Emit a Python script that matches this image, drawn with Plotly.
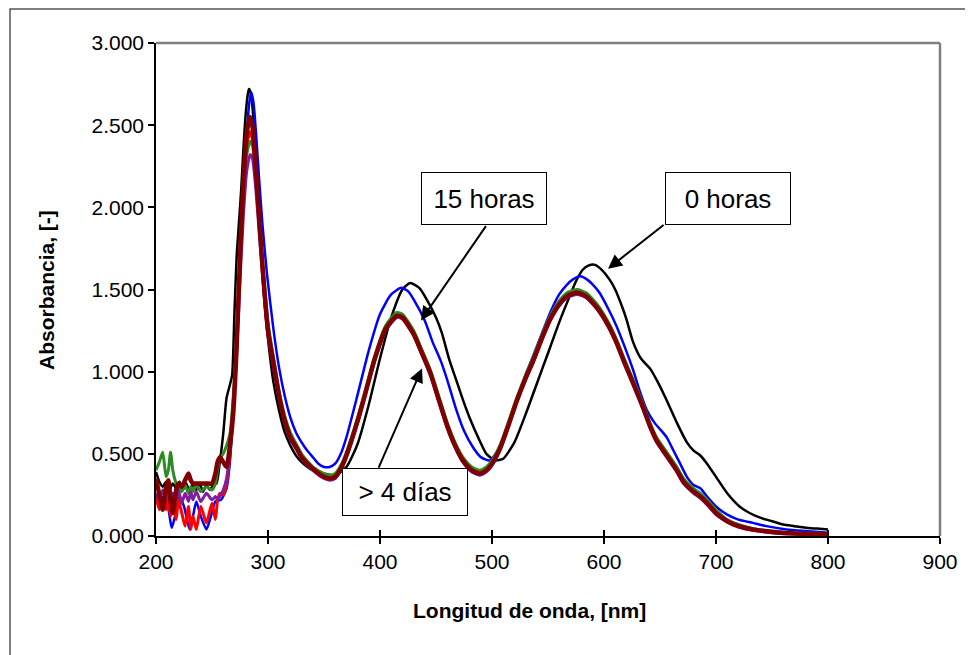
import plotly.graph_objects as go

# ---------------- data ----------------
wl_black = [200,203,206,209,212,215,218,221,224,227,230,233,236,239,242,245,248,251,254,257,
            260,263,266,268,270,272,274,276,278,280,282,283,284,286,288,290,293,296,300,305,
            310,315,320,325,330,340,350,360,370,380,390,400,410,420,427,435,440,450,455,462,
            468,474,480,489,495,503,510,520,530,537,545,552,560,567,575,581,586,592,598,605,
            610,617,620,626,633,641,647,655,665,674,680,686,692,700,710,721,730,740,750,760,
            770,780,790,800]
abs_black = [0.39,0.33,0.30,0.33,0.28,0.32,0.29,0.33,0.28,0.32,0.27,0.32,0.28,0.32,0.27,0.31,0.28,0.31,0.32,0.45,
             0.62,0.84,0.92,0.98,1.35,1.70,1.90,2.10,2.35,2.56,2.69,2.72,2.71,2.62,2.42,2.15,1.80,1.50,1.20,0.93,
             0.76,0.63,0.55,0.49,0.45,0.40,0.38,0.37,0.42,0.56,0.80,1.08,1.33,1.50,1.54,1.51,1.46,1.33,1.24,1.07,
             0.95,0.83,0.72,0.58,0.50,0.46,0.47,0.57,0.74,0.87,1.02,1.15,1.30,1.42,1.55,1.62,1.645,1.65,1.62,1.56,
             1.50,1.38,1.32,1.18,1.08,1.02,0.95,0.84,0.69,0.57,0.52,0.49,0.44,0.36,0.26,0.18,0.14,0.11,0.09,0.07,
             0.06,0.05,0.045,0.04]

wl_blue = [200,205,210,214,217,221,225,230,233,236,240,245,249,253,258,263,266,269,272,275,
           278,281,283,285,287,289,292,295,299,305,310,315,320,325,330,335,340,345,350,355,
           360,365,370,380,390,400,410,419,425,430,440,447,454,460,468,475,483,490,498,505,
           510,520,530,537,545,552,560,567,572,579,585,590,596,604,611,618,626,632,638,645,
           650,656,662,668,674,680,686,692,700,710,720,733,745,763,780,800]
abs_blue = [0.24,0.24,0.20,0.05,0.12,0.24,0.18,0.04,0.12,0.21,0.12,0.04,0.12,0.21,0.22,0.29,0.45,0.75,1.10,1.70,
            2.10,2.43,2.62,2.70,2.64,2.48,2.18,1.90,1.60,1.25,1.02,0.85,0.72,0.63,0.57,0.52,0.48,0.44,0.42,0.42,
            0.44,0.50,0.60,0.86,1.13,1.35,1.47,1.51,1.49,1.44,1.31,1.18,1.07,0.95,0.77,0.64,0.54,0.48,0.46,0.52,
            0.59,0.79,0.98,1.10,1.24,1.36,1.47,1.53,1.56,1.58,1.56,1.53,1.48,1.38,1.28,1.16,1.01,0.88,0.77,0.69,
            0.65,0.60,0.52,0.44,0.36,0.31,0.29,0.24,0.18,0.13,0.10,0.08,0.06,0.04,0.03,0.02]

wl_late = [200,203,206,209,211,213,215,218,220,223,226,229,231,233,236,240,245,250,253,255,
           257,260,263,266,269,272,275,278,281,284,286,289,292,295,300,305,310,315,320,326,
           330,340,350,355,360,365,370,380,387,395,405,415,420,430,437,445,452,460,467,474,
           482,489,495,500,507,515,522,530,537,545,552,560,567,576,584,590,596,604,611,618,
           626,635,641,647,656,665,671,680,686,692,700,710,720,733,750,770,800]
abs_green = [0.40,0.45,0.51,0.36,0.40,0.51,0.40,0.32,0.30,0.27,0.31,0.26,0.30,0.27,0.31,0.27,0.30,0.28,0.32,0.40,
             0.47,0.50,0.55,0.62,0.85,1.20,1.65,2.05,2.32,2.40,2.38,2.20,1.95,1.68,1.30,1.08,0.88,0.73,0.63,0.55,
             0.50,0.42,0.38,0.37,0.38,0.43,0.51,0.72,0.89,1.09,1.28,1.36,1.35,1.25,1.14,1.01,0.86,0.69,0.57,0.48,
             0.42,0.40,0.42,0.46,0.55,0.70,0.84,0.98,1.09,1.23,1.34,1.43,1.48,1.50,1.48,1.44,1.39,1.30,1.20,1.08,
             0.95,0.80,0.69,0.60,0.51,0.42,0.35,0.29,0.26,0.22,0.16,0.10,0.07,0.045,0.03,0.02,0.015]
abs_red = [0.24,0.16,0.21,0.16,0.22,0.12,0.20,0.10,0.22,0.14,0.06,0.18,0.04,0.12,0.04,0.18,0.08,0.20,0.10,0.22,
           0.26,0.25,0.32,0.50,0.80,1.15,1.65,2.10,2.38,2.46,2.42,2.20,1.92,1.63,1.25,1.04,0.85,0.70,0.60,0.53,
           0.48,0.41,0.36,0.35,0.36,0.41,0.49,0.70,0.87,1.07,1.26,1.34,1.33,1.23,1.12,0.99,0.84,0.67,0.55,0.46,
           0.40,0.38,0.40,0.44,0.53,0.68,0.82,0.96,1.07,1.21,1.32,1.41,1.46,1.48,1.46,1.42,1.37,1.28,1.18,1.06,
           0.93,0.78,0.67,0.58,0.49,0.40,0.33,0.27,0.24,0.20,0.14,0.09,0.06,0.04,0.025,0.015,0.01]
abs_purple = [0.26,0.22,0.28,0.22,0.27,0.20,0.26,0.22,0.28,0.20,0.26,0.21,0.27,0.22,0.27,0.21,0.26,0.22,0.24,0.22,
              0.24,0.28,0.35,0.52,0.80,1.12,1.55,1.95,2.22,2.32,2.30,2.12,1.86,1.60,1.22,1.02,0.84,0.69,0.59,0.52,
              0.47,0.40,0.35,0.34,0.35,0.40,0.48,0.69,0.86,1.06,1.25,1.33,1.32,1.22,1.11,0.98,0.83,0.66,0.54,0.45,
              0.39,0.37,0.39,0.43,0.52,0.67,0.81,0.95,1.06,1.20,1.31,1.40,1.45,1.47,1.45,1.41,1.36,1.27,1.17,1.05,
              0.92,0.77,0.66,0.57,0.48,0.39,0.32,0.26,0.23,0.19,0.13,0.085,0.055,0.035,0.02,0.012,0.008]
abs_maroon = [0.35,0.25,0.16,0.30,0.34,0.22,0.14,0.28,0.32,0.30,0.34,0.38,0.34,0.32,0.32,0.32,0.32,0.32,0.38,0.45,
              0.48,0.45,0.42,0.55,0.75,1.15,1.70,2.15,2.45,2.55,2.50,2.25,1.95,1.65,1.25,1.05,0.85,0.70,0.60,0.53,
              0.48,0.41,0.36,0.35,0.36,0.41,0.49,0.70,0.87,1.07,1.26,1.34,1.33,1.23,1.12,0.99,0.84,0.67,0.55,0.46,
              0.40,0.38,0.40,0.44,0.53,0.68,0.82,0.96,1.07,1.21,1.32,1.41,1.46,1.48,1.46,1.42,1.37,1.28,1.18,1.06,
              0.93,0.78,0.67,0.58,0.49,0.40,0.33,0.27,0.24,0.20,0.14,0.09,0.06,0.04,0.025,0.015,0.01]

x_ticks = [200, 300, 400, 500, 600, 700, 800, 900]
y_ticks = [0.0, 0.5, 1.0, 1.5, 2.0, 2.5, 3.0]
y_tick_text = ["0.000", "0.500", "1.000", "1.500", "2.000", "2.500", "3.000"]

labels = ["15 horas", "0 horas", "> 4 días"]
label_pos = [(492.9, 2.056), (710.7, 2.056), (422.3, 0.267)]
arrow_tail = [(495.5, 1.895), (654.5, 1.90), (398.2, 0.407)]
arrow_tip = [(436.6, 1.312), (603.6, 1.627), (437.5, 1.020)]

# ---------------- figure ----------------
FONT = "Liberation Sans, Arial, sans-serif"
fig = go.Figure()

series = [
    ("0 horas", wl_black, abs_black, "#000000", 2.5),
    ("15 horas", wl_blue, abs_blue, "#0000FF", 2.5),
    ("> 4 días (a)", wl_late, abs_green, "#2E8B22", 3),
    ("> 4 días (b)", wl_late, abs_red, "#FF0000", 3),
    ("> 4 días (c)", wl_late, abs_purple, "#7F1F9F", 3),
    ("> 4 días (d)", wl_late, abs_maroon, "#800000", 4.5),
]
for name, xs, ys, col, w in series:
    fig.add_trace(go.Scatter(x=xs, y=ys, mode="lines", name=name,
                             line=dict(color=col, width=w, shape="spline", smoothing=0.6),
                             showlegend=False))

annotations = []
for (tx, ty), (hx, hy) in zip(arrow_tail, arrow_tip):
    annotations.append(dict(x=hx, y=hy, ax=tx, ay=ty, xref="x", yref="y", axref="x", ayref="y",
                            text="", showarrow=True, arrowhead=2, arrowsize=1.4, arrowwidth=2,
                            arrowcolor="black", standoff=0, startstandoff=0))
for txt, (lx, ly) in zip(labels, label_pos):
    h = 44 if txt.startswith(">") else 49
    annotations.append(dict(x=lx, y=ly, xref="x", yref="y", text=txt, showarrow=False,
                            font=dict(family=FONT, size=26, color="black"),
                            bordercolor="black", borderwidth=1, borderpad=1,
                            bgcolor="white", width=122, height=h,
                            xanchor="center", yanchor="middle"))
annotations.append(dict(x=0.4758, y=-0.152, xref="paper", yref="paper",
                        text="<b>Longitud de onda, [nm]</b>", showarrow=False,
                        font=dict(family=FONT, size=21, color="black"),
                        xanchor="center", yanchor="middle"))
annotations.append(dict(x=-0.139, y=0.499, xref="paper", yref="paper",
                        text="<b>Absorbancia, [-]</b>", showarrow=False, textangle=-90,
                        font=dict(family=FONT, size=21, color="black"),
                        xanchor="center", yanchor="middle"))

shapes = [
    # outer chart border
    dict(type="rect", xref="paper", yref="paper", x0=-0.1862, x1=1.0357, y0=-0.26, y1=1.069,
         line=dict(color="#555555", width=1.5), layer="below"),
    # top and right plot-area border
    dict(type="line", xref="paper", yref="paper", x0=0, x1=1, y0=1, y1=1,
         line=dict(color="#808080", width=2.5)),
    dict(type="line", xref="paper", yref="paper", x0=1, x1=1, y0=0, y1=1,
         line=dict(color="#808080", width=2.5)),
]

fig.update_layout(
    width=965, height=647, autosize=False,
    margin=dict(l=148, r=33, t=35, b=119, pad=0),
    paper_bgcolor="white", plot_bgcolor="white",
    font=dict(family=FONT, size=21, color="black"),
    annotations=annotations, shapes=shapes,
    xaxis=dict(range=[200, 900], tickvals=x_ticks, ticktext=[str(v) for v in x_ticks],
               ticks="outside", ticklen=6, tickwidth=1.5, tickcolor="black",
               showline=True, linecolor="black", linewidth=1.5, showgrid=False, zeroline=False,
               tickfont=dict(family=FONT, size=21), fixedrange=True),
    xaxis2=dict(range=[200, 900], overlaying="x", anchor="y", side="bottom",
                tickvals=x_ticks, showticklabels=False, ticks="inside", ticklen=6,
                tickwidth=1.5, tickcolor="black", showline=False, showgrid=False, zeroline=False),
    yaxis=dict(range=[0, 3], tickvals=y_ticks, ticktext=y_tick_text,
               ticks="outside", ticklen=6, tickwidth=1.5, tickcolor="black",
               showline=True, linecolor="black", linewidth=1.5, showgrid=False, zeroline=False,
               tickfont=dict(family=FONT, size=21), fixedrange=True),
)
fig.add_trace(go.Scatter(x=[None], y=[None], xaxis="x2", yaxis="y", showlegend=False, hoverinfo="skip"))

fig.write_html("out.html")
